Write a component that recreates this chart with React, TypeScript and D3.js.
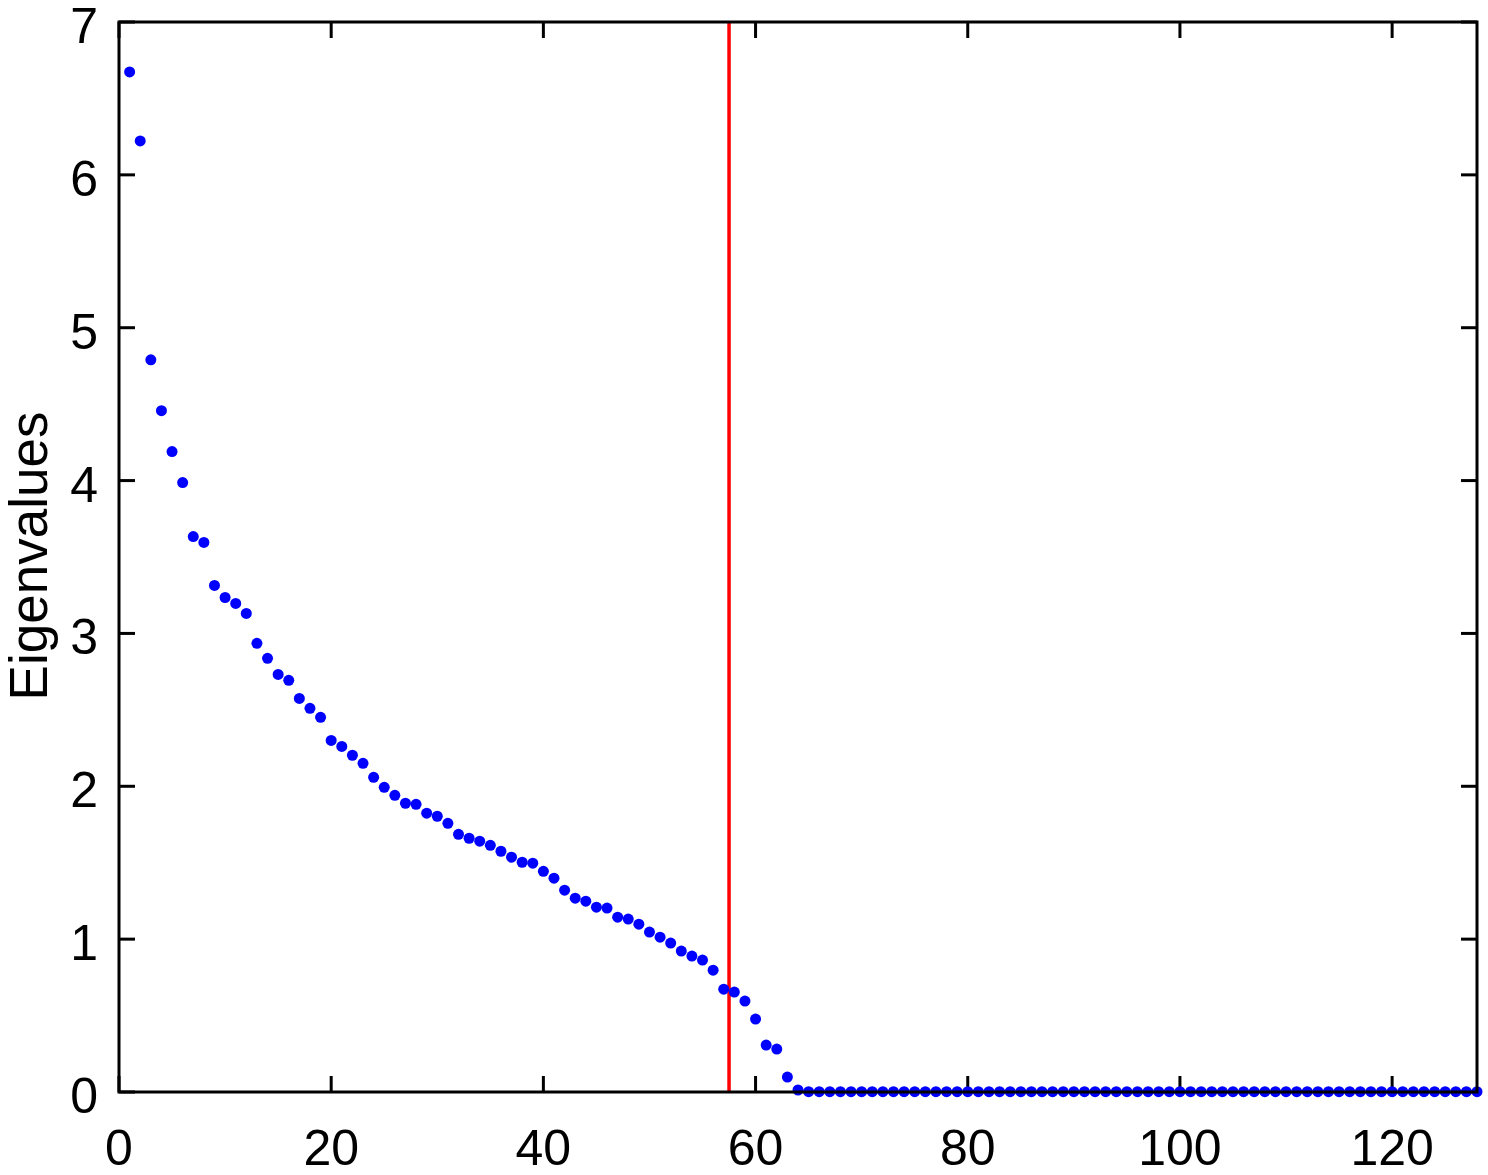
import React from "react";
import * as d3 from "d3";

const eigenvalues: number[] = [
  6.673, 6.222, 4.79, 4.457, 4.19, 3.987, 3.634, 3.595, 3.314, 3.235,
  3.196, 3.131, 2.935, 2.837, 2.732, 2.693, 2.575, 2.51, 2.451, 2.3,
  2.261, 2.203, 2.15, 2.059, 1.993, 1.941, 1.889, 1.882, 1.824, 1.804,
  1.758, 1.686, 1.66, 1.641, 1.614, 1.575, 1.536, 1.503, 1.497, 1.444,
  1.399, 1.32, 1.268, 1.248, 1.209, 1.203, 1.144, 1.131, 1.098, 1.046,
  1.013, 0.974, 0.922, 0.889, 0.863, 0.797, 0.673, 0.654, 0.595, 0.477,
  0.307, 0.281, 0.098, 0.013,
  0.002, 0.002, 0.002, 0.002, 0.002, 0.002, 0.002, 0.002, 0.002, 0.002,
  0.002, 0.002, 0.002, 0.002, 0.002, 0.002, 0.002, 0.002, 0.002, 0.002,
  0.002, 0.002, 0.002, 0.002, 0.002, 0.002, 0.002, 0.002, 0.002, 0.002,
  0.002, 0.002, 0.002, 0.002, 0.002, 0.002, 0.002, 0.002, 0.002, 0.002,
  0.002, 0.002, 0.002, 0.002, 0.002, 0.002, 0.002, 0.002, 0.002, 0.002,
  0.002, 0.002, 0.002, 0.002, 0.002, 0.002, 0.002, 0.002, 0.002, 0.002,
  0.002, 0.002, 0.002, 0.002,
];
const xTicks: number[] = [0, 20, 40, 60, 80, 100, 120];
const yTicks: number[] = [0, 1, 2, 3, 4, 5, 6, 7];
const cutoff = 57.5;
const yLabel = "Eigenvalues";

const W = 1488;
const H = 1175;
const left = 119;
const right = 1477;
const top = 22;
const bottom = 1092;
const FONT = "'Liberation Sans', Arial, Helvetica, sans-serif";

export default function App() {
  const x = d3.scaleLinear().domain([0, 128]).range([left, right]);
  const y = d3.scaleLinear().domain([0, 7]).range([bottom, top]);
  const tickLen = 16;
  const fs = 50;

  return (
    <svg
      width={W}
      height={H}
      style={{ position: "absolute", left: 0, top: 0, background: "#fff" }}
    >
      <rect x={0} y={0} width={W} height={H} fill="#fff" />
      {xTicks.map((t) => (
        <g key={"xt" + t}>
          <line x1={x(t)} x2={x(t)} y1={bottom} y2={bottom - tickLen} stroke="#000" strokeWidth={3} />
          <line x1={x(t)} x2={x(t)} y1={top} y2={top + tickLen} stroke="#000" strokeWidth={3} />
          <text x={x(t)} y={1165} textAnchor="middle" fontFamily={FONT} fontSize={fs} fill="#000">
            {t}
          </text>
        </g>
      ))}
      {yTicks.map((t) => (
        <g key={"yt" + t}>
          <line x1={left} x2={left + tickLen} y1={y(t)} y2={y(t)} stroke="#000" strokeWidth={3} />
          <line x1={right} x2={right - tickLen} y1={y(t)} y2={y(t)} stroke="#000" strokeWidth={3} />
          <text x={98} y={y(t) + 21} textAnchor="end" fontFamily={FONT} fontSize={fs} fill="#000">
            {t}
          </text>
        </g>
      ))}
      <line x1={x(cutoff)} x2={x(cutoff)} y1={top} y2={bottom} stroke="#ff0000" strokeWidth={3.5} />
      {eigenvalues.map((v, i) => (
        <circle key={i} cx={x(i + 1)} cy={y(v)} r={5.5} fill="#0000ff" />
      ))}
      <rect x={left} y={top} width={right - left} height={bottom - top} fill="none" stroke="#000" strokeWidth={3} />
      <text
        transform={`translate(47, 556) rotate(-90)`}
        textAnchor="middle"
        fontFamily={FONT}
        fontSize={53}
        fill="#000"
      >
        {yLabel}
      </text>
    </svg>
  );
}
